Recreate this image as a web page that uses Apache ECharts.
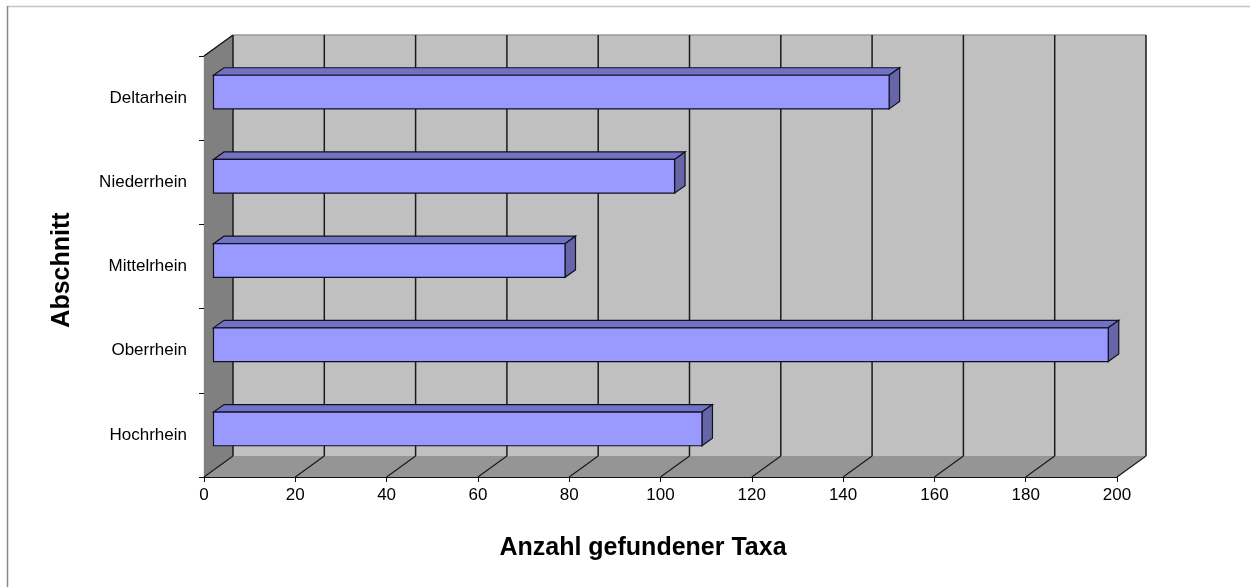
<!DOCTYPE html>
<html>
<head>
<meta charset="utf-8">
<script src="https://cdn.jsdelivr.net/npm/echarts@6/dist/echarts.min.js"></script>
<style>
  html, body { margin: 0; padding: 0; background: #fff; }
  #chart { width: 1250px; height: 587px; }
</style>
</head>
<body>
<div id="chart"></div>
<script>
// Daten (von unten nach oben)
var abschnitte = ['Hochrhein', 'Oberrhein', 'Mittelrhein', 'Niederrhein', 'Deltarhein'];
var taxa = [107, 196, 77, 101, 148];
var xTicks = [0, 20, 40, 60, 80, 100, 120, 140, 160, 180, 200];

// 3D-Tiefe (Rueckwand) und Lage der Balken in der Tiefe
var DX = 29, DY = -21;
var BX = 9.5, BY = -6, BDX = 10.5, BDY = -7.5;

var chart = echarts.init(document.getElementById('chart'));

function renderFrame(params, api) {
  var cs = params.coordSys;
  var x0 = cs.x, y0 = cs.y, x1 = cs.x + cs.width, y1 = cs.y + cs.height;
  var kids = [];
  // Rueckwand
  kids.push({ type: 'polygon', shape: { points: [[x0 + DX, y0 + DY], [x1 + DX, y0 + DY], [x1 + DX, y1 + DY], [x0 + DX, y1 + DY]] },
    style: { fill: '#c0c0c0', stroke: null } });
  // Seitenwand links
  kids.push({ type: 'polygon', shape: { points: [[x0, y0], [x0 + DX, y0 + DY], [x0 + DX, y1 + DY], [x0, y1]] },
    style: { fill: '#808080', stroke: null } });
  // Boden
  kids.push({ type: 'polygon', shape: { points: [[x0, y1], [x0 + DX, y1 + DY], [x1 + DX, y1 + DY], [x1, y1]] },
    style: { fill: '#959595', stroke: null } });
  // obere Kante der Rueckwand
  kids.push({ type: 'line', shape: { x1: x0 + DX, y1: y0 + DY, x2: x1 + DX, y2: y0 + DY },
    style: { stroke: '#9a9a9a', lineWidth: 1.5 } });
  // obere Kante Seitenwand
  kids.push({ type: 'line', shape: { x1: x0, y1: y0, x2: x0 + DX, y2: y0 + DY },
    style: { stroke: '#111', lineWidth: 1.5 } });
  // Gitterlinien
  xTicks.forEach(function (t) {
    var px = api.coord([t, 0])[0];
    kids.push({ type: 'line', shape: { x1: px + DX, y1: y0 + DY, x2: px + DX, y2: y1 + DY },
      style: { stroke: '#1a1a1a', lineWidth: 1.5 } });
    kids.push({ type: 'line', shape: { x1: px, y1: y1, x2: px + DX, y2: y1 + DY },
      style: { stroke: '#1a1a1a', lineWidth: 1.2 } });
  });
  return { type: 'group', children: kids };
}

function renderBar(params, api) {
  var v = api.value(0), c = api.value(1);
  var p0 = api.coord([0, c]), p1 = api.coord([v, c]);
  var h = api.size([0, 1])[1] / 2.5;
  var l = p0[0] + BX, r = p1[0] + BX;
  var t = p0[1] + BY - h / 2, b = t + h;
  var edge = { stroke: '#111122', lineWidth: 1.2 };
  return {
    type: 'group',
    children: [
      { type: 'polygon', shape: { points: [[l, t], [r, t], [r + BDX, t + BDY], [l + BDX, t + BDY]] },
        style: Object.assign({ fill: '#7272c4' }, edge) },
      { type: 'polygon', shape: { points: [[r, t], [r + BDX, t + BDY], [r + BDX, b + BDY], [r, b]] },
        style: Object.assign({ fill: '#6565a8' }, edge) },
      { type: 'rect', shape: { x: l, y: t, width: r - l, height: h },
        style: Object.assign({ fill: '#9999ff' }, edge) }
    ]
  };
}

chart.setOption({
  animation: false,
  backgroundColor: '#fff',
  textStyle: { fontFamily: 'Liberation Sans, Arial, sans-serif' },
  grid: { left: 204, right: 133, top: 56, bottom: 110 },
  xAxis: {
    type: 'value',
    min: 0,
    max: 200,
    interval: 20,
    axisLine: { show: true, lineStyle: { color: '#111', width: 1.2 } },
    axisTick: { show: true, length: 5, lineStyle: { color: '#111' } },
    axisLabel: { color: '#000', fontSize: 17, margin: 10 },
    splitLine: { show: false }
  },
  yAxis: {
    type: 'category',
    data: abschnitte,
    axisLine: { show: true, lineStyle: { color: '#111', width: 1.2 } },
    axisTick: { show: true, length: 5, lineStyle: { color: '#111' } },
    axisLabel: { color: '#000', fontSize: 17, margin: 17 },
    splitLine: { show: false }
  },
  graphic: [
    { type: 'line', shape: { x1: 7, y1: 6.5, x2: 1250, y2: 6.5 }, style: { stroke: '#c4c4c4', lineWidth: 1.5 } },
    { type: 'line', shape: { x1: 7.5, y1: 6, x2: 7.5, y2: 587 }, style: { stroke: '#888', lineWidth: 1.5 } },
    { type: 'text', x: 643, y: 548,
      style: { text: 'Anzahl gefundener Taxa', font: 'bold 25px "Liberation Sans", Arial, sans-serif', fill: '#000',
        align: 'center', verticalAlign: 'middle' } },
    { type: 'text', x: 62, y: 270, rotation: Math.PI / 2,
      style: { text: 'Abschnitt', font: 'bold 25px "Liberation Sans", Arial, sans-serif', fill: '#000',
        align: 'center', verticalAlign: 'middle' } }
  ],
  series: [
    {
      type: 'custom',
      name: 'Rahmen',
      clip: false,
      silent: true,
      z: 1,
      renderItem: renderFrame,
      data: [[0, 0]]
    },
    {
      type: 'custom',
      name: 'Taxa',
      clip: false,
      z: 5,
      renderItem: renderBar,
      encode: { x: 0, y: 1 },
      data: taxa.map(function (v, i) { return [v, i]; })
    }
  ]
});

window.onresize = function () {
  chart.resize();
};
</script>
</body>
</html>
